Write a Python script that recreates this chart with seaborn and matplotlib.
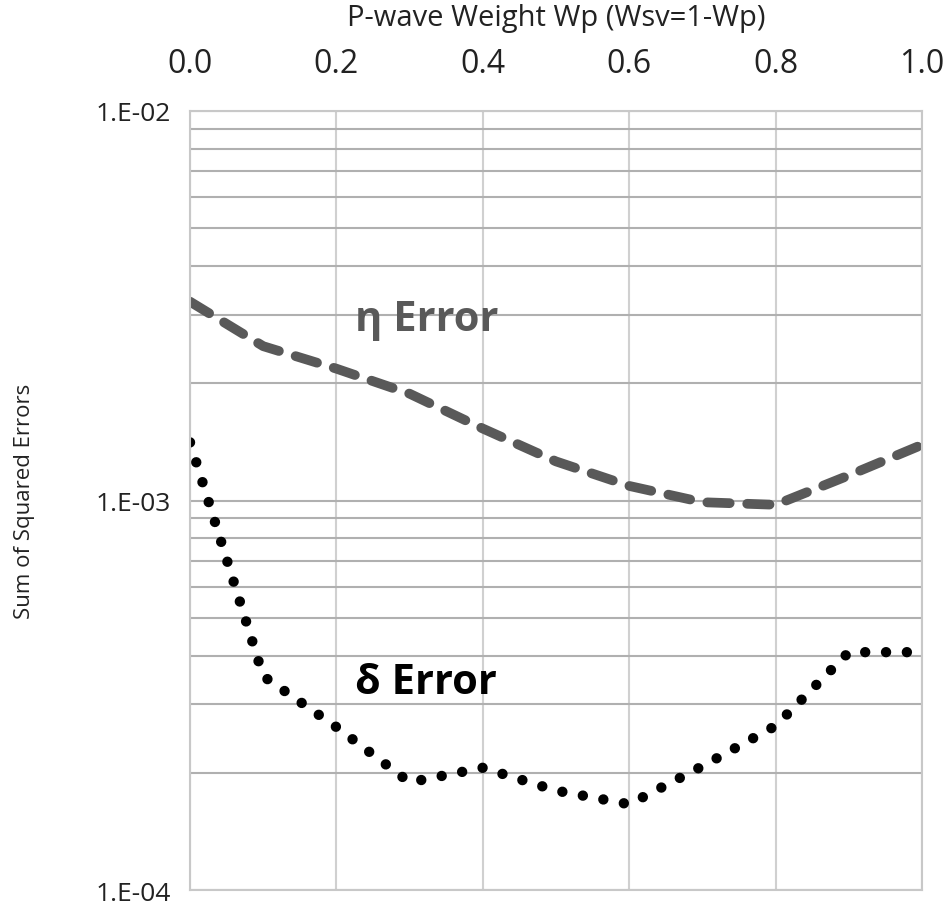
import numpy as np
import pandas as pd
import matplotlib
matplotlib.use("Agg")
import matplotlib.pyplot as plt
import matplotlib.ticker as mticker
import seaborn as sns

# P-wave weight and the two error curves
wp = [0.0, 0.1, 0.2, 0.3, 0.4, 0.5, 0.6, 0.7, 0.8, 0.9, 1.0]
eta_err = [3.24e-3, 2.49e-3, 2.18e-3, 1.88e-3, 1.53e-3, 1.26e-3, 1.09e-3, 0.99e-3, 0.975e-3, 1.16e-3, 1.39e-3]
delta_err = [1.41e-3, 3.54e-4, 2.62e-4, 1.89e-4, 2.06e-4, 1.80e-4, 1.66e-4, 2.08e-4, 2.64e-4, 4.08e-4, 4.08e-4]

x_ticks = [0.0, 0.2, 0.4, 0.6, 0.8, 1.0]
y_ticks = [1e-4, 1e-3, 1e-2]
y_tick_labels = ["1.E-04", "1.E-03", "1.E-02"]


def main():
    sns.set_style("white")
    plt.rcParams["font.family"] = ["Open Sans", "DejaVu Sans"]

    df = pd.DataFrame({"wp": wp, "eta": eta_err, "delta": delta_err})

    fig = plt.figure(figsize=(9.52, 9.12), dpi=100)
    ax = fig.add_axes([0.1996, 0.023, 0.7689, 0.8542])

    sns.lineplot(data=df, x="wp", y="eta", ax=ax, color="#595959", linewidth=7)
    sns.lineplot(data=df, x="wp", y="delta", ax=ax, color="black", linewidth=7.5)
    eta_line, delta_line = ax.get_lines()[:2]
    eta_line.set_dashes((2.3, 1.8))
    eta_line.set_dash_capstyle("round")
    delta_line.set_dashes((0.001, 2.0))
    delta_line.set_dash_capstyle("round")

    ax.set_yscale("log")
    ax.set_xlim(0, 1)
    ax.set_ylim(1e-4, 1e-2)

    ax.xaxis.tick_top()
    ax.xaxis.set_label_position("top")
    ax.set_xticks(x_ticks)
    ax.xaxis.set_major_formatter(mticker.FormatStrFormatter("%.1f"))
    ax.set_yticks(y_ticks)
    ax.set_yticklabels(y_tick_labels)
    ax.yaxis.set_minor_locator(mticker.LogLocator(base=10, subs=np.arange(2, 10)))
    ax.yaxis.set_minor_formatter(mticker.NullFormatter())

    ax.tick_params(axis="both", which="both", length=0)
    ax.tick_params(axis="x", labelsize=23, pad=22, colors="#222222")
    ax.tick_params(axis="y", labelsize=19, pad=14, colors="#222222")

    ax.grid(True, axis="x", color="#d0d0d0", linewidth=1.5)
    ax.grid(True, axis="y", which="both", color="#b0b0b0", linewidth=1.5)
    for s in ax.spines.values():
        s.set_color("#c8c8c8")
        s.set_linewidth(1.5)

    ax.set_xlabel("P-wave Weight Wp (Wsv=1-Wp)", fontsize=21, labelpad=16, color="#222222")
    ax.set_ylabel("Sum of Squared Errors", fontsize=16, color="#222222")
    ax.yaxis.set_label_coords(-0.212, 0.5)

    ax.text(0.226, 2.92e-3, "η Error", fontsize=30, fontweight="bold", color="#595959",
            ha="left", va="center")
    ax.text(0.226, 3.42e-4, "δ Error", fontsize=30, fontweight="bold", color="black",
            ha="left", va="center")

    fig.savefig("out.png", dpi=100)


main()
